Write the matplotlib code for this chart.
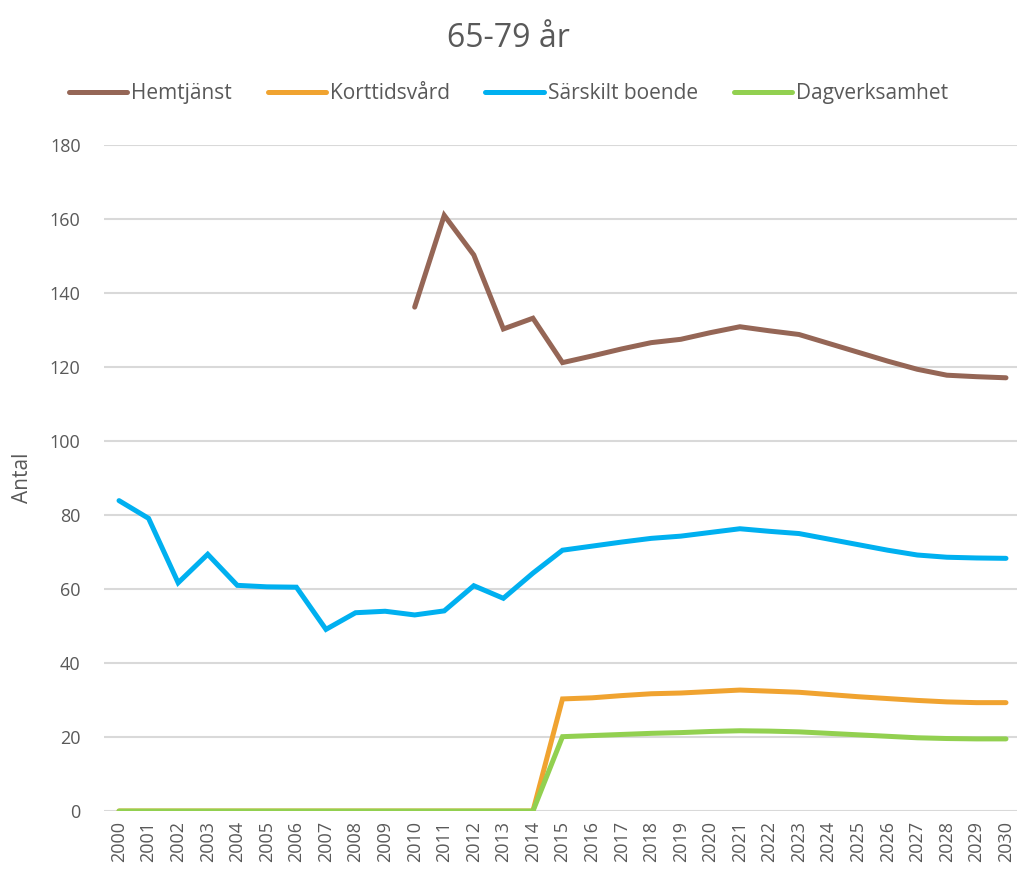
import numpy as np
import matplotlib.pyplot as plt

plt.rcParams['font.family'] = ['Open Sans', 'DejaVu Sans']

years = [str(y) for y in range(2000, 2031)]

# Hemtjänst starts in 2010
hemtjanst = [np.nan] * 10 + [
    136.2, 161.0, 150.3, 130.3, 133.2, 121.2, 123.0, 124.9, 126.6, 127.5,
    129.3, 130.9, 129.8, 128.8, 126.4, 124.0, 121.6, 119.4, 117.8, 117.4, 117.1]
korttidsvard = [0.0] * 15 + [
    30.3, 30.6, 31.2, 31.7, 31.9, 32.3, 32.7, 32.4, 32.1, 31.5,
    30.9, 30.4, 29.9, 29.5, 29.3, 29.3]
sarskilt_boende = [
    83.9, 79.1, 61.7, 69.4, 61.0, 60.6, 60.5, 49.1, 53.6, 54.0,
    53.0, 54.1, 60.9, 57.5, 64.3, 70.5, 71.6, 72.7, 73.7, 74.3,
    75.3, 76.3, 75.6, 75.0, 73.5, 72.0, 70.5, 69.2, 68.6, 68.4, 68.3]
dagverksamhet = [0.0] * 15 + [
    20.1, 20.4, 20.7, 21.0, 21.2, 21.5, 21.7, 21.6, 21.4, 21.0,
    20.6, 20.2, 19.8, 19.6, 19.5, 19.5]

series = [
    ('Hemtjänst', hemtjanst, '#956656'),
    ('Korttidsvård', korttidsvard, '#F0A330'),
    ('Särskilt boende', sarskilt_boende, '#00B0F0'),
    ('Dagverksamhet', dagverksamhet, '#92D050'),
]

text_col = '#595959'

fig = plt.figure(figsize=(10.17, 8.75), dpi=100)
ax = fig.add_axes([0.1025, 0.0731, 0.9012, 0.7611])

x = np.arange(len(years))
for name, vals, col in series:
    ax.plot(x, vals, color=col, lw=3.6, label=name, solid_capstyle='round',
            solid_joinstyle='miter')

ax.set_xlim(-0.5, len(years) - 0.5)
ax.set_ylim(0, 180)
ax.set_yticks(range(0, 181, 20))
ax.set_xticks(x)
ax.set_xticklabels(years, rotation=90, fontsize=13, color=text_col)
ax.tick_params(axis='y', labelsize=13, labelcolor=text_col, length=0, pad=17)
ax.tick_params(axis='x', length=0, pad=7)
ax.grid(axis='y', color='#D9D9D9', lw=1.5)
ax.set_axisbelow(True)
for s in ax.spines.values():
    s.set_visible(False)

ax.set_ylabel('Antal', fontsize=15, color=text_col, labelpad=12)

fig.suptitle('65-79 år', fontsize=23, color=text_col, y=0.975)
fig.legend(loc='center', bbox_to_anchor=(0.5, 0.893), ncol=4, frameon=False,
           fontsize=15, handlelength=2.8, handletextpad=0.2, columnspacing=1.7,
           labelcolor=text_col)

fig.savefig('out.png', dpi=100)
